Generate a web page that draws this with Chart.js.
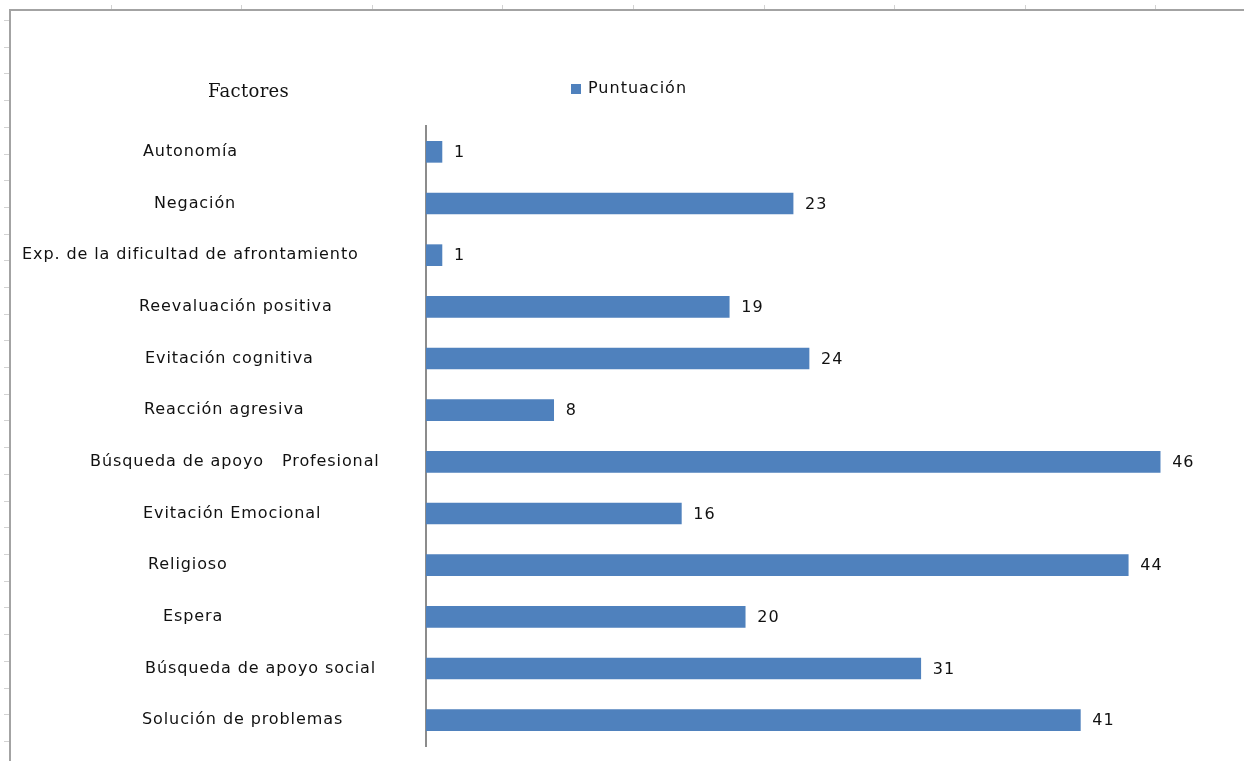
<!DOCTYPE html>
<html>
<head>
<meta charset="utf-8">
<title>Factores - Puntuación</title>
<script src="https://cdn.jsdelivr.net/npm/chart.js@4.4.1/dist/chart.umd.min.js"></script>
<style>
  html, body { margin: 0; padding: 0; background: #fff; overflow: hidden; }
  #wrap { width: 1244px; height: 761px; position: relative; overflow: hidden; }
  canvas { display: block; }
</style>
</head>
<body>
<div id="wrap"><canvas id="chart" width="1244" height="761"></canvas></div>
<script>
// Data (top to bottom)
const factores = [
  'Autonomía',
  'Negación',
  'Exp. de la dificultad de afrontamiento',
  'Reevaluación positiva',
  'Evitación cognitiva',
  'Reacción agresiva',
  'Búsqueda de apoyo   Profesional',
  'Evitación Emocional',
  'Religioso',
  'Espera',
  'Búsqueda de apoyo social',
  'Solución de problemas'
];
const puntuacion = [1, 23, 1, 19, 24, 8, 46, 16, 44, 20, 31, 41];
const serieNombre = 'Puntuación';
const tituloEje = 'Factores';

const BLUE = '#4F81BD';
const FONT = '"DejaVu Sans", Verdana, sans-serif';

// left edge of each category label (the labels were separate boxes in the original)
const labelLeft = [143, 154, 22, 139, 145, 144, 90, 143, 148, 163, 145, 142];

// sheet frame + row/column ticks behind the chart
const sheetFrame = {
  id: 'sheetFrame',
  beforeDraw(chart) {
    const ctx = chart.ctx;
    ctx.save();
    ctx.strokeStyle = '#d2d2d2';
    ctx.lineWidth = 1;
    ctx.beginPath();
    for (let x = 110.5; x < 1240; x += 130.6) {
      ctx.moveTo(Math.round(x) + 0.5, 5);
      ctx.lineTo(Math.round(x) + 0.5, 9);
    }
    for (let y = 20; y < 761; y += 26.7) {
      ctx.moveTo(4, Math.round(y) + 0.5);
      ctx.lineTo(9, Math.round(y) + 0.5);
    }
    ctx.stroke();
    ctx.strokeStyle = '#a3a3a3';
    ctx.lineWidth = 2;
    ctx.beginPath();
    ctx.moveTo(10, 770);
    ctx.lineTo(10, 10);
    ctx.lineTo(1260, 10);
    ctx.stroke();
    ctx.restore();
  }
};

// category names, axis title, legend and value labels
const textLayer = {
  id: 'textLayer',
  afterDatasetsDraw(chart) {
    const ctx = chart.ctx;
    const yScale = chart.scales.y;
    ctx.save();
    ctx.fillStyle = '#111';
    ctx.textBaseline = 'middle';
    ctx.textAlign = 'left';

    ctx.font = '16px ' + FONT;
    ctx.letterSpacing = '0.9px';
    factores.forEach((name, i) => {
      ctx.fillText(name, labelLeft[i], yScale.getPixelForValue(i));
    });

    ctx.letterSpacing = '1px';
    const meta = chart.getDatasetMeta(0);
    meta.data.forEach((bar, i) => {
      ctx.fillText(String(puntuacion[i]), bar.x + 12, bar.y + 1);
    });

    // legend
    ctx.fillStyle = BLUE;
    ctx.fillRect(571, 84, 10, 10);
    ctx.fillStyle = '#111';
    ctx.fillText(serieNombre, 588, 89);

    // axis title
    ctx.letterSpacing = '0.3px';
    ctx.font = '18px "DejaVu Serif", "Liberation Serif", serif';
    ctx.fillText(tituloEje, 208, 92);
    ctx.restore();
  }
};

new Chart(document.getElementById('chart'), {
  type: 'bar',
  data: {
    labels: factores,
    datasets: [{
      label: serieNombre,
      data: puntuacion,
      backgroundColor: BLUE,
      borderWidth: 0,
      barThickness: 21
    }]
  },
  options: {
    indexAxis: 'y',
    responsive: false,
    devicePixelRatio: 1,
    animation: false,
    layout: { padding: { left: 426, top: 126, right: 20, bottom: 15 } },
    plugins: {
      legend: { display: false },
      tooltip: { enabled: false }
    },
    scales: {
      x: { display: false, min: 0, max: 50 },
      y: {
        display: true,
        grid: { display: false },
        ticks: { display: false },
        border: { display: true, color: '#8c8c8c', width: 2 },
        afterFit: (s) => { s.width = 0; }
      }
    }
  },
  plugins: [sheetFrame, textLayer]
});
</script>
</body>
</html>
